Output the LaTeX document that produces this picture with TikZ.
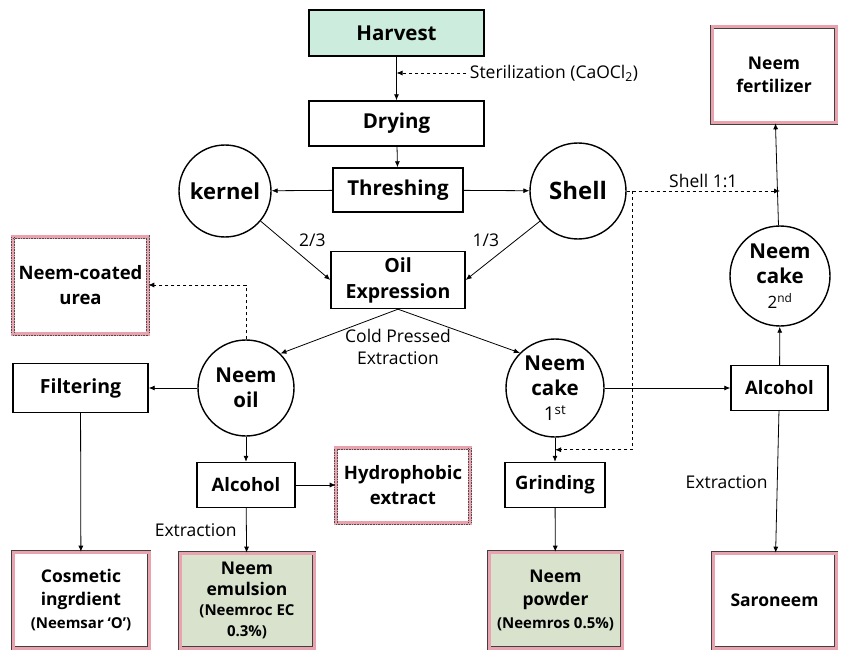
\documentclass[tikz,border=0pt]{standalone}
\usepackage{fontspec}
\setmainfont{Open Sans}
\usetikzlibrary{arrows.meta,calc}

\definecolor{harvestgreen}{RGB}{204,236,221}
\definecolor{productgreen}{RGB}{216,226,204}
\definecolor{pinkband}{RGB}{232,163,174}

\newcommand{\prodnote}[1]{{\fontsize{15}{19}\selectfont #1}}

\begin{document}
\begin{tikzpicture}[x=1pt, y=-1pt, line width=0.8pt,
    >={Latex[length=6pt,width=5pt]},
    box/.style={draw, line width=1.4pt, inner sep=0pt, align=center,
        font=\fontsize{18.5}{26}\selectfont\bfseries},
    disc/.style={circle, draw, line width=1.4pt, inner sep=0pt, align=center,
        font=\fontsize{20.5}{25}\selectfont\bfseries},
    product/.style={draw=black!75, double=pinkband, double distance=3pt,
        line width=0.6pt, inner sep=0pt, align=center,
        font=\fontsize{17.5}{23}\selectfont\bfseries},
    dotbox/.style={draw=black!70, densely dotted, double=pinkband,
        double distance=2.8pt, line width=0.6pt, inner sep=0pt, align=center,
        preaction={draw=pinkband, solid, line width=4pt},
        font=\fontsize{18.5}{25}\selectfont\bfseries},
    note/.style={font=\fontsize{17.5}{22}\selectfont, align=center}]

    \useasboundingbox (0,0) rectangle (841,650);

    % main line
    \node [box, fill=harvestgreen, minimum width=175pt, minimum height=46pt,
        font=\fontsize{20.5}{25}\selectfont\bfseries]
        (harvest) at (396.5, 33) {Harvest};
    \node [box, minimum width=175pt, minimum height=45pt,
        font=\fontsize{20.5}{25}\selectfont\bfseries]
        (drying) at (396.5, 123.5) {Drying};
    \node [box, minimum width=130pt, minimum height=44pt,
        font=\fontsize{20.5}{25}\selectfont\bfseries]
        (threshing) at (398, 190) {Threshing};
    \node [disc, minimum size=92pt, font=\fontsize{22}{28}\selectfont\bfseries]
        (kernel) at (225, 191) {kernel};
    \node [disc, minimum size=96pt, font=\fontsize{24}{28}\selectfont\bfseries]
        (shell) at (578, 191) {Shell};
    \node [box, minimum width=134pt, minimum height=57pt,
        font=\fontsize{19.5}{26}\selectfont\bfseries]
        (oilexp) at (398, 280) {Oil\\Expression};
    \node [note] (coldpressed) at (398, 347) {Cold Pressed\\Extraction};
    \node [note] (steril) at (554, 73) {Sterilization (CaOCl\textsubscript{2})};

    % oil side
    \node [dotbox, minimum width=135pt, minimum height=97pt]
        (urea) at (80.5, 285) {Neem-coated\\urea};
    \node [disc, minimum size=96pt]
        (neemoil) at (246, 388) {Neem\\oil};
    \node [box, minimum width=135pt, minimum height=49pt,
        font=\fontsize{19.5}{26}\selectfont\bfseries]
        (filtering) at (80.5, 388) {Filtering};
    \node [box, minimum width=98pt, minimum height=45pt]
        (alcoholL) at (246, 485) {Alcohol};
    \node [dotbox, minimum width=134pt, minimum height=75pt]
        (hydro) at (403, 485) {Hydrophobic\\extract};
    \node [product, minimum width=136pt, minimum height=96pt]
        (cosmetic) at (81, 600) {Cosmetic\\ingrdient\\\prodnote{(Neemsar ‘O’)}};
    \node [product, fill=productgreen, minimum width=134pt, minimum height=95pt,
        font=\fontsize{17.5}{20.5}\selectfont\bfseries]
        (emulsion) at (247, 600.5)
        {Neem\\emulsion\\\prodnote{(Neemroc EC}\\\prodnote{0.3\%)}};

    % cake side
    \node [disc, minimum size=98pt]
        (cake1) at (555, 388) {Neem\\cake\\{\mdseries\fontsize{19}{22}\selectfont 1\textsuperscript{st}}};
    \node [box, minimum width=100pt, minimum height=45pt]
        (grinding) at (555, 485) {Grinding};
    \node [product, fill=productgreen, minimum width=133pt, minimum height=96pt]
        (powder) at (555.5, 600) {Neem\\powder\\\prodnote{(Neemros 0.5\%)}};
    \node [box, minimum width=97pt, minimum height=45pt]
        (alcoholR) at (779.5, 388) {Alcohol};
    \node [disc, minimum size=100pt]
        (cake2) at (780, 276) {Neem\\cake\\{\mdseries\fontsize{17}{22}\selectfont 2\textsuperscript{nd}}};
    \node [product, minimum width=124pt, minimum height=96pt]
        (fert) at (774, 75) {Neem\\fertilizer};
    \node [product, minimum width=123pt, minimum height=95pt]
        (saroneem) at (774.5, 600.5) {Saroneem};

    \draw [->] (harvest) -- (drying);
    \draw [dashed, ->] (steril.west) -- (steril.west -| harvest.south);
    \draw [->] (drying) -- (threshing);
    \draw [->] (threshing) -- (kernel);
    \draw [->] (threshing) -- (shell);
    \draw [->] (kernel) -- node [above right, note] {2/3} (oilexp.west);
    \draw [->] (shell) -- node [above left, note] {1/3} (oilexp.east);
    \draw [->] (oilexp.south) -- (neemoil.45);
    \draw [->] (oilexp.south) -- (cake1.135);

    \draw [dashed, ->] (neemoil.north) |- (urea.east);
    \draw [->] (neemoil) -- (filtering);
    \draw [->] (filtering) -- (cosmetic);
    \draw [->] (neemoil) -- (alcoholL);
    \draw [->] (alcoholL) -- (hydro);
    \draw [->] (alcoholL) -- node [left=6pt, note] {Extraction} (emulsion);

    \draw [->] (cake1) -- (grinding);
    \draw [->] (grinding) -- (powder);
    \draw [->] (cake1) -- (alcoholR);
    \draw [->] (alcoholR) -- (cake2);
    \draw [->] (cake2) -- (fert);
    \draw [->] (alcoholR) -- node [left=6pt, note] {Extraction} (saroneem);

    \draw [dashed, ->] (shell.east) -- node [above, note] {Shell 1:1}
        (shell.east -| cake2.north);
    \draw [dashed, ->] ([xshift=6pt]shell.east)
        |- ($(cake1.south)!0.5!(grinding.north)$);
\end{tikzpicture}
\end{document}
